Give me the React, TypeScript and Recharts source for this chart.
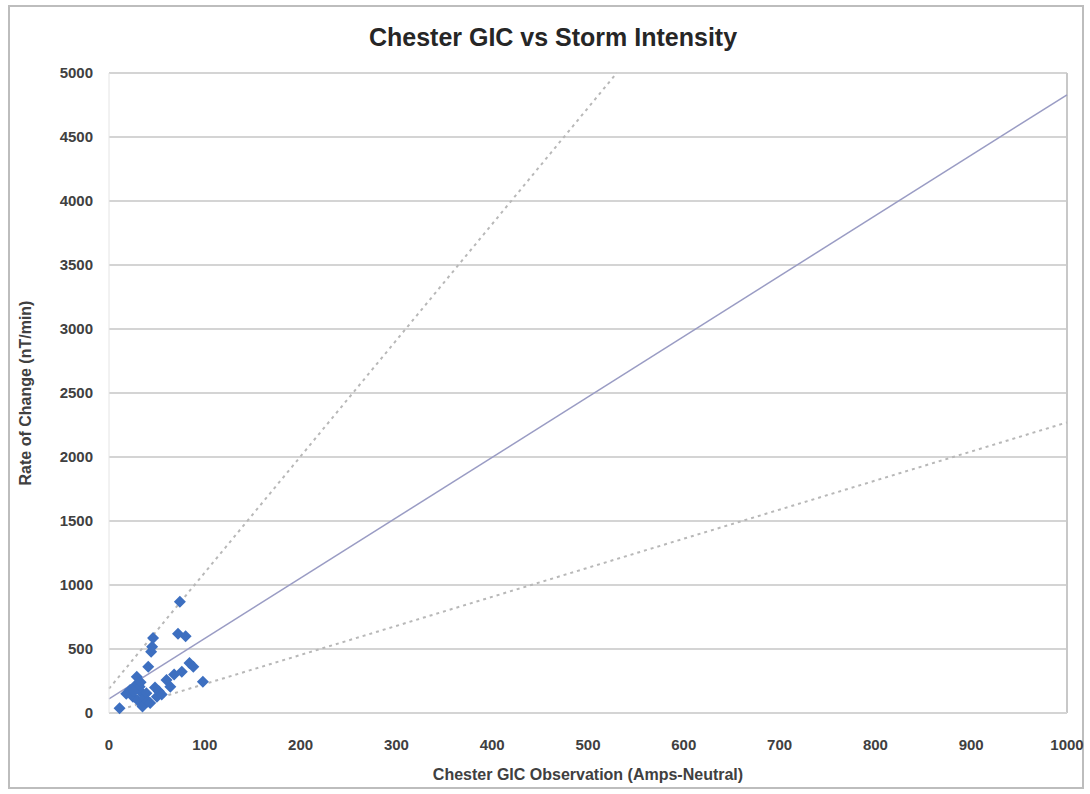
import {
  ComposedChart,
  CartesianGrid,
  Line,
  ReferenceLine,
  Scatter,
  XAxis,
  YAxis,
} from "recharts";

// observed GIC (amps neutral) vs rate of change (nT/min)
const obsGic = [
  11, 18, 22, 25, 27, 29, 30, 32, 34, 35, 37, 39, 40, 41, 43, 44, 45, 46, 48,
  50, 52, 55, 60, 64, 68, 74, 72, 80, 76, 84, 88, 98, 33, 26,
];
const obsRate = [
  37, 150, 180, 127, 210, 284, 100, 205, 160, 50, 120, 154, 90, 362, 78, 479,
  518, 585, 200, 127, 170, 145, 258, 205, 300, 870, 620, 600, 323, 390, 362,
  245, 240, 170,
];

// trend line + bounds (endpoints)
const trendX = [0, 1000];
const trendY = [110, 4830];
const upperX = [0, 530];
const upperY = [190, 5000];
const lowerX = [20, 1000];
const lowerY = [45, 2270];

const xTicks = [0, 100, 200, 300, 400, 500, 600, 700, 800, 900, 1000];
const yTicks = [0, 500, 1000, 1500, 2000, 2500, 3000, 3500, 4000, 4500, 5000];

const points = obsGic.map((x, i) => ({ x, y: obsRate[i] }));
const toPts = (xs: number[], ys: number[]) =>
  xs.map((x, i) => ({ x, y: ys[i] }));

const font = "'Liberation Sans Narrow', 'Liberation Sans', Arial, sans-serif";
const tickStyle = { fill: "#404040", fontSize: 15, fontWeight: 700, fontFamily: font };

const Diamond = (props: any) => {
  const { cx, cy } = props;
  if (cx == null || cy == null) return null;
  const r = 6;
  return (
    <polygon
      points={`${cx},${cy - r} ${cx + r},${cy} ${cx},${cy + r} ${cx - r},${cy}`}
      fill="#3d6fc0"
    />
  );
};

export default function App() {
  return (
    <div
      style={{
        position: "absolute",
        left: 0,
        top: 0,
        width: 1090,
        height: 794,
        background: "#fff",
        fontFamily: font,
      }}
    >
      <div
        style={{
          position: "absolute",
          left: 8,
          top: 5,
          width: 1076,
          height: 784,
          border: "2px solid #bdbdbd",
          boxSizing: "border-box",
        }}
      />
      <div
        style={{
          position: "absolute",
          left: 0,
          top: 23,
          width: 1106,
          textAlign: "center",
          fontSize: 25,
          fontWeight: 700,
          color: "#262626",
        }}
      >
        Chester GIC vs Storm Intensity
      </div>
      <div style={{ position: "absolute", left: 0, top: 0 }}>
        <ComposedChart
          width={1090}
          height={794}
          margin={{ top: 73, right: 23, bottom: 10, left: 40 }}
        >
          <CartesianGrid
            vertical={false}
            stroke="#d4d4d4"
            strokeWidth={2}
          />
          <XAxis
            type="number"
            dataKey="x"
            domain={[0, 1000]}
            ticks={xTicks}
            tick={tickStyle}
            tickLine={false}
            axisLine={{ stroke: "#d4d4d4", strokeWidth: 2 }}
            dy={18}
            height={71}
            label={{
              value: "Chester GIC Observation (Amps-Neutral)",
              position: "insideBottom",
              offset: 4,
              style: { ...tickStyle, fontSize: 16, fill: "#404040" },
            }}
          />
          <YAxis
            type="number"
            dataKey="y"
            domain={[0, 5000]}
            ticks={yTicks}
            tick={tickStyle}
            tickLine={false}
            axisLine={{ stroke: "#e4e4e4" }}
            width={69}
            dx={-8}
            label={{
              value: "Rate of Change (nT/min)",
              angle: -90,
              position: "insideLeft",
              offset: -15,
              style: {
                ...tickStyle,
                fontSize: 16,
                textAnchor: "middle",
              },
            }}
          />
          <ReferenceLine x={1000} stroke="#c8c8c8" strokeWidth={2} />
          <Line
            data={toPts(upperX, upperY)}
            dataKey="y"
            type="linear"
            stroke="#b8b8b8"
            strokeWidth={2}
            strokeDasharray="3 4"
            dot={false}
            isAnimationActive={false}
          />
          <Line
            data={toPts(lowerX, lowerY)}
            dataKey="y"
            type="linear"
            stroke="#b8b8b8"
            strokeWidth={2}
            strokeDasharray="3 4"
            dot={false}
            isAnimationActive={false}
          />
          <Line
            data={toPts(trendX, trendY)}
            dataKey="y"
            type="linear"
            stroke="#9a9cc4"
            strokeWidth={1.5}
            dot={false}
            isAnimationActive={false}
          />
          <Scatter
            data={points}
            dataKey="y"
            shape={<Diamond />}
            legendType="none"
            isAnimationActive={false}
          />
        </ComposedChart>
      </div>
    </div>
  );
}
